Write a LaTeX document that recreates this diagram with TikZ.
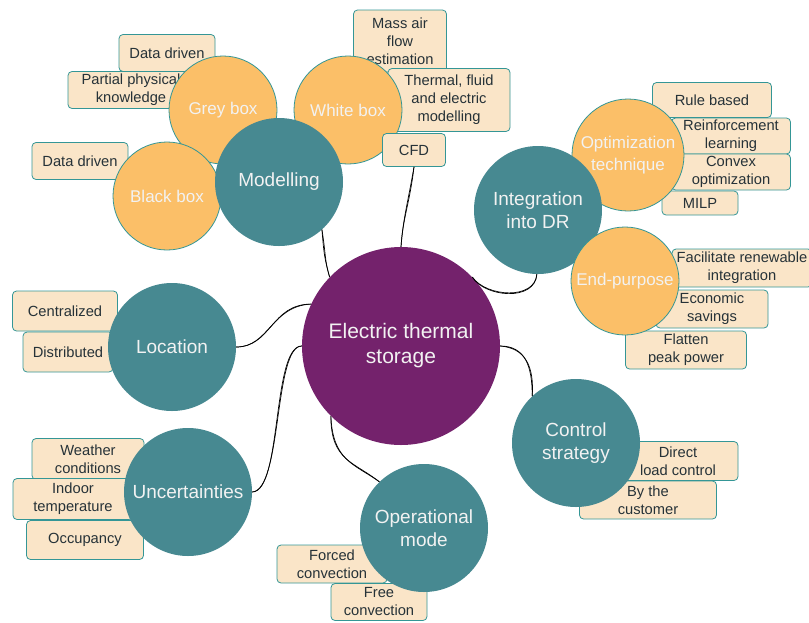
\documentclass[tikz,border=0pt]{standalone}
\usepackage{fontspec}
\setmainfont{Liberation Sans}
\definecolor{mappurple}{RGB}{116,34,108}
\definecolor{mapteal}{RGB}{71,137,145}
\definecolor{maporange}{RGB}{251,191,104}
\definecolor{mapcream}{RGB}{250,229,200}
\definecolor{mapedge}{RGB}{52,150,150}
\definecolor{mapink}{RGB}{38,50,56}
\definecolor{mapwhite}{RGB}{242,242,242}
\begin{document}
\begin{tikzpicture}
[x=1pt, y=-1pt,
hub/.style={circle, fill=mappurple, text=mapwhite, minimum size=198pt, inner sep=0pt, align=center, font=\fontsize{21}{25}\selectfont},
topic/.style={circle, fill=mapteal, text=mapwhite, minimum size=128pt, inner sep=0pt, align=center, font=\fontsize{19}{23}\selectfont},
sub/.style={circle, fill=maporange, draw=mapedge, line width=0.8pt, text=mapwhite, minimum size=108pt, inner sep=0pt, align=center, font=\fontsize{17}{22}\selectfont},
leaf/.style={rectangle, rounded corners=4pt, fill=mapcream, draw=mapedge, line width=0.8pt, text=mapink, inner sep=0pt, align=center, font=\fontsize{14.7}{18}\selectfont},
link/.style={line width=0.7pt, black}]
\useasboundingbox (0,0) rectangle (809,622);
\node[leaf, minimum width=96pt, minimum height=37pt] (dd1) at (167,53) {Data driven};
\node[leaf, minimum width=126pt, minimum height=37pt] (ppk) at (131,90) {Partial physical\\knowledge};
\node[sub] (gb) at (223,110) {Grey box};
\node[leaf, minimum width=96pt, minimum height=37pt] (dd2) at (80,161) {Data driven};
\node[sub] (bb) at (167,196) {Black box};
\node[leaf, minimum width=93pt, minimum height=62pt] (maf) at (400,41) {Mass air\\flow\\estimation};
\node[leaf, minimum width=122pt, minimum height=63pt] (tfe) at (449,100) {Thermal, fluid\\and electric\\modelling};
\node[sub] (wb) at (348,110) {White box};
\node[leaf, minimum width=63pt, minimum height=33pt] (cfd) at (414,150) {CFD};
\node[topic] (mod) at (279,182) {Modelling};
\node[leaf, minimum width=119pt, minimum height=35pt] (rb) at (712,100) {Rule based};
\node[leaf, minimum width=119pt, minimum height=36pt] (rl) at (731,136) {Reinforcement\\learning};
\node[leaf, minimum width=119pt, minimum height=36pt] (co) at (731,172) {Convex\\optimization};
\node[leaf, minimum width=76pt, minimum height=24pt] (milp) at (700,203) {MILP};
\node[sub, minimum size=112pt] (opt) at (628,155) {Optimization\\technique};
\node[topic] (int) at (538,210) {Integration\\into DR};
\node[leaf, minimum width=140pt, minimum height=38pt] (fri) at (742,268) {Facilitate renewable\\integration};
\node[leaf, minimum width=112pt, minimum height=38pt] (es) at (712,309) {Economic\\savings};
\node[leaf, minimum width=121pt, minimum height=38pt] (fpp) at (686,350) {Flatten\\peak power};
\node[sub] (ep) at (625,281) {End-purpose};
\node[leaf, minimum width=120pt, minimum height=39pt] (dlc) at (678,461) {Direct\\load control};
\node[leaf, minimum width=137pt, minimum height=38pt] (btc) at (648,500) {By the\\customer};
\node[topic] (ctl) at (576,443) {Control\\strategy};
\node[leaf, minimum width=105pt, minimum height=40pt] (cen) at (65,311) {Centralized};
\node[leaf, minimum width=90pt, minimum height=40pt] (dis) at (68,352) {Distributed};
\node[topic] (loc) at (172,347) {Location};
\node[leaf, minimum width=112pt, minimum height=41pt] (wc) at (88,459) {Weather\\conditions};
\node[leaf, minimum width=120pt, minimum height=41pt] (it) at (73,499) {Indoor\\temperature};
\node[leaf, minimum width=117pt, minimum height=39pt] (occ) at (85,540) {Occupancy};
\node[topic] (unc) at (188,492) {Uncertainties};
\node[leaf, minimum width=110pt, minimum height=38pt] (fc) at (332,564) {Forced\\convection};
\node[leaf, minimum width=96pt, minimum height=37pt] (frc) at (379,602) {Free\\convection};
\node[topic] (op) at (424,528) {Operational\\mode};
\node[hub] (ets) at (401,346) {Electric thermal\\storage};
\foreach \s in {0,2}{
\draw[link] (mod.-48) .. controls +(2+\s,25) and +(-5,-18+\s) .. (ets.136);
\draw[link] (cfd.south) .. controls +(-4-\s,35) and +(2,-30+\s) .. (ets.90);
\draw[link] (int.-91) .. controls +(-2,28-\s) and +(12+\s,20) .. (ets.44);
\draw[link] (ets.0) .. controls +(25,\s) and +(\s,-30) .. (ctl.133);
\draw[link] (ets.225) .. controls +(\s,45) and +(-25,-20+\s) .. (op.134);
\draw[link] (ets.180) .. controls +(-30+\s,0) and +(30,-\s) .. (unc.east);
\draw[link] (ets.155) .. controls +(-40,\s) and +(35-\s,0) .. (loc.east);
}
\end{tikzpicture}
\end{document}
